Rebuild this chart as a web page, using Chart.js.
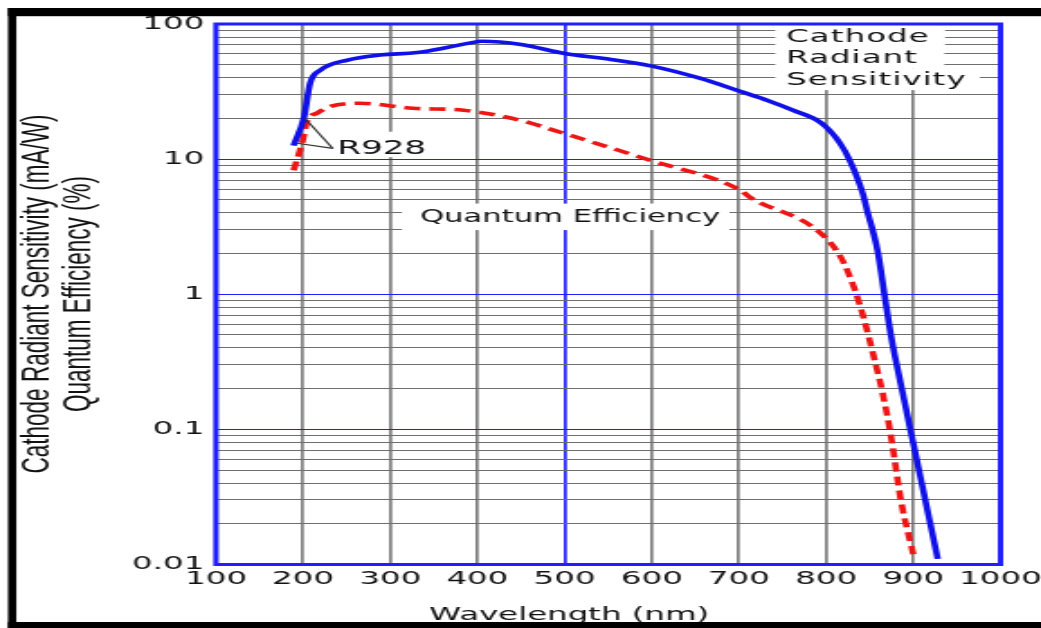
<!DOCTYPE html>
<html><head><meta charset="utf-8">
<script src="https://cdn.jsdelivr.net/npm/chart.js@4"></script>
<style>
html,body{margin:0;padding:0;background:#fff;overflow:hidden;width:1041px;height:628px;}
#wrap{position:absolute;left:0;top:0;width:578px;height:628px;transform:scaleX(1.80104);transform-origin:0 0;}
canvas{display:block;}
</style></head><body>
<div id="wrap"><canvas id="c" width="578" height="628"></canvas></div>
<script>
// ---- data ----
const xTickLabels = ['100','200','300','400','500','600','700','800','900','1000'];
const yTickLabels = ['0.01','0.1','1','10','100'];

const sensWavelength = [189, 201, 208, 220, 251, 288, 331, 365, 392, 405, 450, 500, 550, 600, 655, 704, 732, 762, 795, 816, 827, 842, 847, 859, 868, 874, 889, 897, 928];
const sensValues     = [12.6, 20.4, 36.5, 45.6, 54.1, 58.9, 61.5, 67.0, 72.5, 74.5, 70.5, 60.5, 55.0, 48.8, 39.7, 31.3, 27.3, 23.0, 18.4, 13.1, 9.8, 5.57, 4.17, 2.10, 0.895, 0.509, 0.171, 0.097, 0.011];

const qeWavelength = [189, 199, 205, 216, 228, 265, 326, 384, 449, 495, 598, 702, 713, 790, 817, 832, 843, 855, 865, 874, 886, 900];
const qeValues     = [8.25, 13.3, 19.4, 21.9, 24.2, 25.9, 23.8, 23.0, 19.4, 15.8, 9.8, 5.87, 5.2, 2.96, 1.87, 1.12, 0.67, 0.338, 0.183, 0.092, 0.0293, 0.0119];

const yTitleLines = ['Cathode Radiant Sensitivity (mA/W)', 'Quantum Efficiency (%)'];
const xTitle = 'Wavelength (nm)';

// annotation texts anchored in data coordinates (nm, value at baseline)
const labelTexts = ['Cathode', 'Radiant', 'Sensitivity', 'R928', 'Quantum Efficiency'];
const labelNm    = [754, 754, 754, 239, 334];
const labelVal   = [74.0, 51.1, 35.3, 10.97, 3.42];
// leader lines for R928: from anchor to curve points
const leaderFrom = [234, 12.0];
const leaderTo   = [[202, 20.1], [193, 13.1]];

// ---- styles ----
const labelStyle = [
  {font:'18px "DejaVu Sans"', ls:'0.6px', padL:6, padR:8.5, padT:17.6, padB:4.4},
  {font:'18px "DejaVu Sans"', ls:'0.6px', padL:6, padR:14.6, padT:17.3, padB:4.7},
  {font:'18px "DejaVu Sans"', ls:'0.6px', padL:6, padR:7.3, padT:17, padB:5},
  {font:'19px "DejaVu Sans"', ls:'0px', padL:1, padR:3.5, padT:22, padB:3.5},
  {font:'17px "DejaVu Sans"', ls:'0px', padL:10, padR:5.2, padT:18.5, padB:8}
];
const BLUE = '#1f1fff';
const GRAY = '#6e6e6e';

const decoPlugin = {
  id: 'deco',
  beforeDraw(chart) {
    const c = chart.ctx;
    c.save(); c.fillStyle = '#fff'; c.fillRect(0, 0, chart.width, chart.height); c.restore();
  },
  beforeDatasetsDraw(chart) {
    const {ctx, chartArea: a, scales: {x, y}} = chart;
    ctx.save();
    ctx.fillStyle = '#fff';
    labelTexts.forEach((t, i) => {
      const st = labelStyle[i];
      ctx.font = st.font; ctx.letterSpacing = st.ls;
      const w = ctx.measureText(t).width;
      const px = x.getPixelForValue(labelNm[i]), py = y.getPixelForValue(labelVal[i]);
      ctx.fillRect(px - st.padL, py - st.padT, w + st.padL + st.padR, st.padT + st.padB);
    });
    ctx.letterSpacing = '0px';
    ctx.strokeStyle = BLUE; ctx.lineWidth = 3;
    ctx.strokeRect(a.left, a.top, a.right - a.left, a.bottom - a.top);
    ctx.restore();
  },
  afterDatasetsDraw(chart) {
    const {ctx, scales: {x, y}} = chart;
    ctx.save();
    ctx.fillStyle = '#111';
    ctx.textBaseline = 'alphabetic';
    ctx.textAlign = 'left';
    labelTexts.forEach((t, i) => {
      const st = labelStyle[i];
      ctx.font = st.font; ctx.letterSpacing = st.ls;
      ctx.fillText(t, x.getPixelForValue(labelNm[i]), y.getPixelForValue(labelVal[i]));
    });
    ctx.letterSpacing = '0px';
    // leader lines
    ctx.strokeStyle = '#333'; ctx.lineWidth = 1.2;
    const fx = x.getPixelForValue(leaderFrom[0]), fy = y.getPixelForValue(leaderFrom[1]);
    leaderTo.forEach(p => {
      ctx.beginPath(); ctx.moveTo(fx, fy);
      ctx.lineTo(x.getPixelForValue(p[0]), y.getPixelForValue(p[1])); ctx.stroke();
    });
    // y title (two rotated lines)
    ctx.font = '22.5px "Liberation Sans"';
    ctx.textAlign = 'center';
    const yBase = [26.6, 49.7];
    yTitleLines.forEach((t, i) => {
      ctx.save(); ctx.translate(yBase[i], 294); ctx.rotate(-Math.PI / 2);
      ctx.fillText(t, 0, 0); ctx.restore();
    });
    // x title
    ctx.font = '18px "DejaVu Sans"';
    ctx.fillText(xTitle, 316, 619.5);
    ctx.restore();
  },
  afterDraw(chart) {
    const c = chart.ctx;
    c.save(); c.fillStyle = '#000';
    c.fillRect(4.44, 8, chart.width, 8.2);
    c.fillRect(4.44, 8, 4.6, chart.height);
    c.fillRect(4.44, 622, chart.width, 6);
    c.restore();
  }
};

const isDecade = v => Math.abs(Math.log10(v) - Math.round(Math.log10(v))) < 1e-9;

new Chart(document.getElementById('c'), {
  type: 'line',
  data: {
    datasets: [
      {
        label: 'Cathode Radiant Sensitivity',
        data: sensWavelength.map((w, i) => ({x: w, y: sensValues[i]})),
        borderColor: '#1010e8', borderWidth: 3.6, pointRadius: 0,
        cubicInterpolationMode: 'monotone', fill: false
      },
      {
        label: 'Quantum Efficiency',
        data: qeWavelength.map((w, i) => ({x: w, y: qeValues[i]})),
        borderColor: '#ee1515', borderWidth: 3.6, borderDash: [9, 5], pointRadius: 0,
        cubicInterpolationMode: 'monotone', fill: false
      }
    ]
  },
  options: {
    responsive: false, animation: false, devicePixelRatio: 1,
    layout: {autoPadding: false, padding: {left: 0, right: 22.5, top: 24, bottom: 33.5}},
    plugins: {legend: {display: false}, tooltip: {enabled: false}},
    scales: {
      x: {
        type: 'linear', min: 100, max: 1000,
        afterBuildTicks: s => { s.ticks = xTickLabels.map(t => ({value: Number(t)})); },
        afterFit: s => { s.height = 30; s.paddingLeft = 0; s.paddingRight = 0; },
        ticks: {
          autoSkip: false, maxRotation: 0, minRotation: 0, padding: 4, color: '#111',
          font: {family: 'DejaVu Sans', size: 18},
          callback: v => { const t = xTickLabels.find(l => Number(l) === v); return t === undefined ? '' : t; }
        },
        grid: {drawTicks: false, lineWidth: 1.7,
          color: c => (c.tick && c.tick.value === 500) ? BLUE : '#7e7e7e'},
        border: {display: false}
      },
      y: {
        type: 'logarithmic', min: 0.01, max: 100,
        afterBuildTicks: s => {
          const ticks = [];
          for (let e = -2; e < 2; e++) for (let m = 1; m < 10; m++) ticks.push({value: Number((m * Math.pow(10, e)).toPrecision(6))});
          ticks.push({value: 100});
          s.ticks = ticks;
        },
        afterFit: s => { s.width = 119.9; s.paddingTop = 0; s.paddingBottom = 0; },
        ticks: {
          autoSkip: false, padding: 6.5, color: '#111',
          font: {family: 'DejaVu Sans', size: 18},
          callback: v => { const t = yTickLabels.find(l => Math.abs(Number(l) - v) / v < 1e-6); return t === undefined ? '' : t; }
        },
        grid: {drawTicks: false, lineWidth: 1.1,
          color: c => (c.tick && isDecade(c.tick.value)) ? BLUE : GRAY},
        border: {display: false}
      }
    }
  },
  plugins: [decoPlugin]
});
</script>
</body></html>
